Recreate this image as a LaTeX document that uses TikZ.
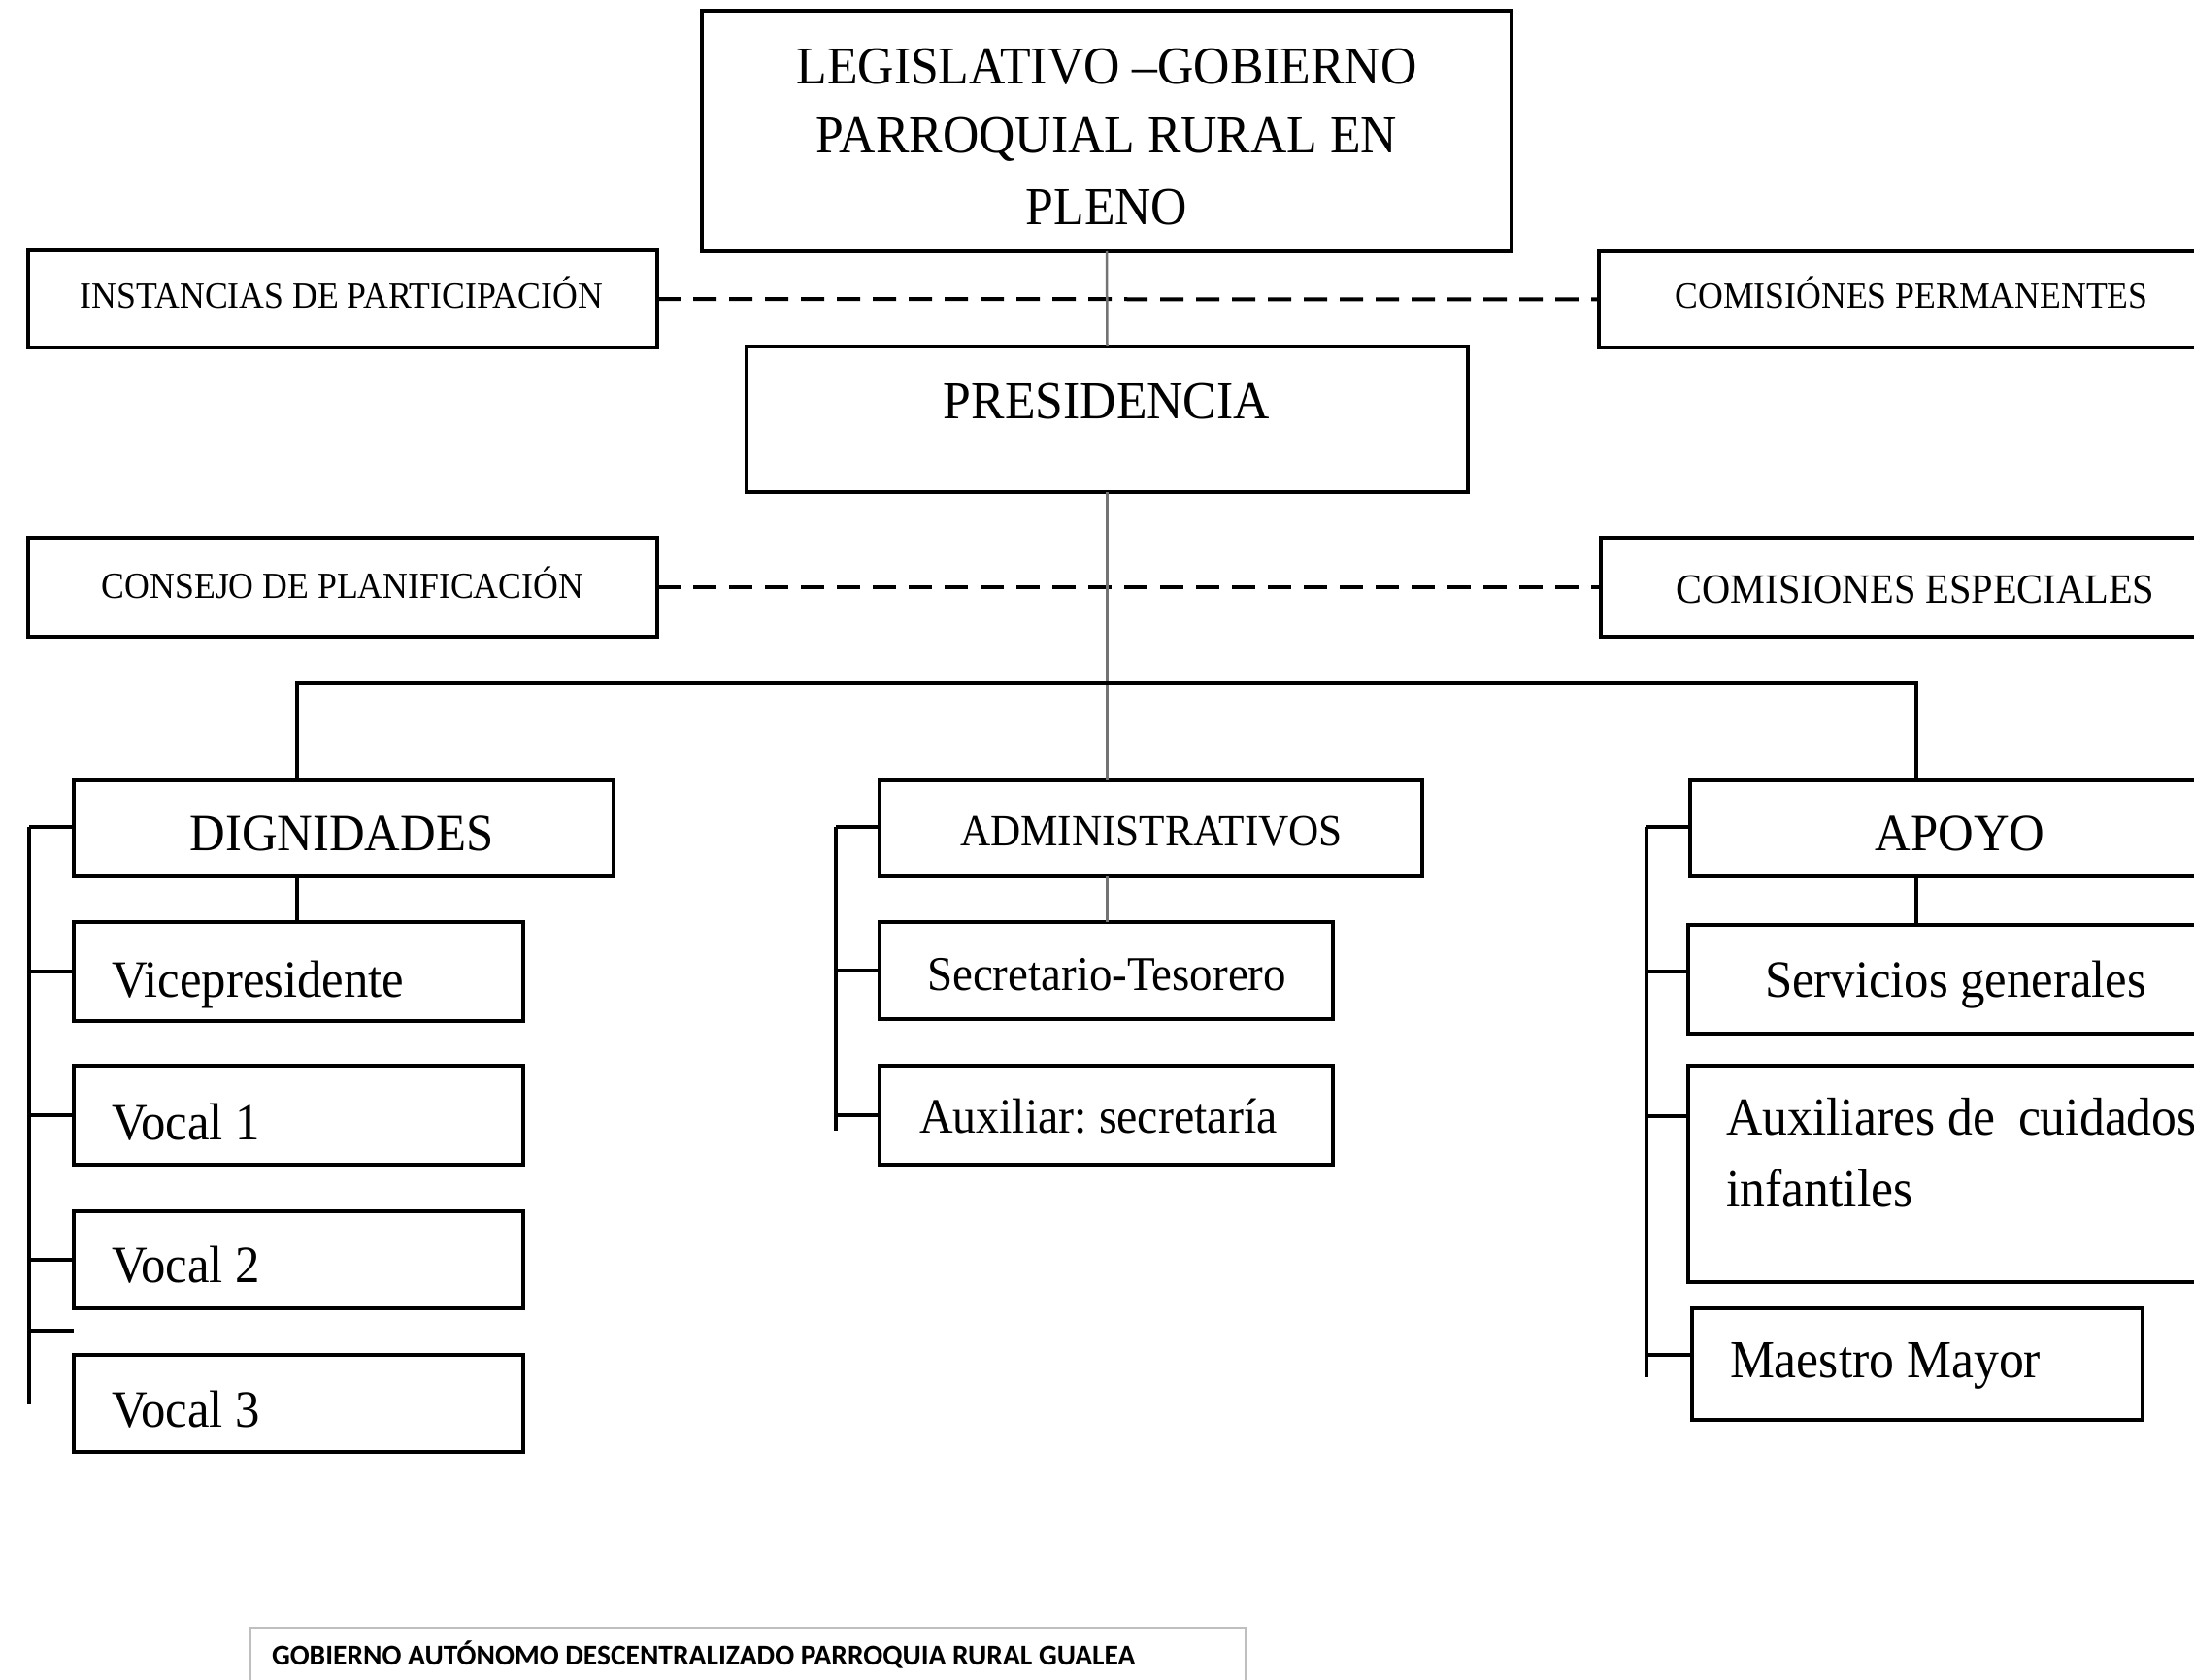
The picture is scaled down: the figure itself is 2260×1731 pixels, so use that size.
\documentclass[tikz,border=0pt]{standalone}
\usepackage{fontspec}
\setmainfont{Liberation Serif}[FakeStretch=0.94]
\newfontfamily\footfont{Carlito}
\frenchspacing
\tikzset{
  box/.style={draw=black,line width=4.5pt,inner sep=0pt,outer sep=0pt,anchor=north west},
  footbox/.style={draw=black!25,line width=2pt,inner sep=0pt,outer sep=0pt,anchor=north west},
  txt/.style={inner sep=0pt,outer sep=0pt,text=black},
  link/.style={draw=black,line width=4pt},
  glink/.style={draw=black!55,line width=2.5pt},
  dlink/.style={draw=black,line width=4pt,dash pattern=on 24pt off 13pt}
}
\newcommand\fs[1]{\fontsize{#1pt}{#1pt}\selectfont}
\begin{document}
\begin{tikzpicture}[x=1pt,y=-1pt]
\useasboundingbox (0,0) rectangle (2260,1731);
\clip (0,0) rectangle (2260,1731);
% boxes
\node[box,minimum width=834pt,minimum height=248pt] (leg) at (723,11) {};
\node[box,minimum width=648pt,minimum height=100pt] (inst) at (29,258) {};
\node[box,minimum width=653pt,minimum height=99pt] (perm) at (1647,259) {};
\node[box,minimum width=743pt,minimum height=150pt] (pres) at (769,357) {};
\node[box,minimum width=648pt,minimum height=102pt] (cons) at (29,554) {};
\node[box,minimum width=651pt,minimum height=102pt] (esp) at (1649,554) {};
\node[box,minimum width=556pt,minimum height=99pt] (dig) at (76,804) {};
\node[box,minimum width=463pt,minimum height=102pt] (vice) at (76,950) {};
\node[box,minimum width=463pt,minimum height=102pt] (vo1) at (76,1098) {};
\node[box,minimum width=463pt,minimum height=100pt] (vo2) at (76,1248) {};
\node[box,minimum width=463pt,minimum height=100pt] (vo3) at (76,1396) {};
\node[box,minimum width=559pt,minimum height=99pt] (adm) at (906,804) {};
\node[box,minimum width=467pt,minimum height=100pt] (sec) at (906,950) {};
\node[box,minimum width=467pt,minimum height=102pt] (aux) at (906,1098) {};
\node[box,minimum width=559pt,minimum height=99pt] (apo) at (1741,804) {};
\node[box,minimum width=561pt,minimum height=112pt] (serv) at (1739,953) {};
\node[box,minimum width=561pt,minimum height=223pt] (auxc) at (1739,1098) {};
\node[box,minimum width=464pt,minimum height=115pt] (mae) at (1743,1348) {};
\node[footbox,minimum width=1025pt,minimum height=100pt] (foot) at (258,1677) {};
% texts
\node[txt,anchor=base] (tl1) at (1140,87) {\fs{55}LEGISLATIVO –GOBIERNO};
\node[txt,anchor=base] (tl2) at (1140,158) {\fs{55}PARROQUIAL RURAL EN};
\node[txt,anchor=base] (tl3) at (1140,232) {\fs{55}PLENO};
\node[txt,anchor=base] (tpres) at (1140,431) {\fs{55}PRESIDENCIA};
\node[txt,anchor=base] (tinst) at (352,317) {\fs{38}INSTANCIAS DE PARTICIPACIÓN};
\node[txt,anchor=base] (tperm) at (1969,317) {\fs{38}COMISIÓNES PERMANENTES};
\node[txt,anchor=base] (tcons) at (353,616) {\fs{38}CONSEJO DE PLANIFICACIÓN};
\node[txt,anchor=base] (tesp) at (1973,621) {\fs{43}COMISIONES ESPECIALES};
\node[txt,anchor=base] (tdig) at (352,876) {\fs{54}DIGNIDADES};
\node[txt,anchor=base] (tadm) at (1186,871) {\fs{46}ADMINISTRATIVOS};
\node[txt,anchor=base] (tapo) at (2019,876) {\fs{54}APOYO};
\node[txt,anchor=base west] (tvice) at (115,1027) {\fs{54}Vicepresidente};
\node[txt,anchor=base west] (tvo1) at (115,1174) {\fs{54}Vocal 1};
\node[txt,anchor=base west] (tvo2) at (115,1321) {\fs{54}Vocal 2};
\node[txt,anchor=base west] (tvo3) at (115,1470) {\fs{54}Vocal 3};
\node[txt,anchor=base] (tsec) at (1140,1020) {\fs{50}Secretario-Tesorero};
\node[txt,anchor=base west] (taux) at (947,1167) {\fs{51}Auxiliar: secretaría};
\node[txt,anchor=base west] (tserv) at (1818,1027) {\fs{54}Servicios generales};
\node[txt,anchor=base west] (tauxc1) at (1778,1169) {\fs{55}Auxiliares de\hspace{0.2em} cuidados};
\node[txt,anchor=base west] (tauxc2) at (1778,1243) {\fs{55}infantiles};
\node[txt,anchor=base west] (tmae) at (1782,1419) {\fs{55}Maestro Mayor};
\node[txt,anchor=base west] (tfoot) at (280,1715) {\footfont\bfseries\fs{29.5}GOBIERNO AUTÓNOMO DESCENTRALIZADO PARROQUIA RURAL GUALEA};
% coordinates
\coordinate (dj) at (306,704);
\coordinate (aj) at (1974,704);
\coordinate (lbt) at (30,852);
\coordinate (lbb) at (30,1447);
\coordinate (lbx) at (30,1371);
\coordinate (lbxe) at (76,1371);
\coordinate (mbt) at (861,852);
\coordinate (mbb) at (861,1165);
\coordinate (rbt) at (1696,852);
\coordinate (rbb) at (1696,1419);
\coordinate (rb1) at (1696,1001);
\coordinate (rb2) at (1696,1150);
\coordinate (rb3) at (1696,1396);
% dashed links
\draw[dlink] (inst.east) -- (perm.west);
\draw[dlink] (cons.east) -- (esp.west);
% gray trunk
\draw[glink] (leg.south) -- (pres.north);
\draw[glink] (pres.south) -- (pres.south |- adm.north);
\draw[glink] (adm.south -| pres.south) -- (sec.north -| pres.south);
% black branches
\draw[link] (dig.north -| dj) -- (dj) -- (aj) -- (apo.north -| aj);
\draw[link] (dig.south -| dj) -- (vice.north -| dj);
\draw[link] (apo.south -| aj) -- (serv.north -| aj);
% left bracket
\draw[link] (lbt) -- (lbb);
\draw[link] (lbt) -- (lbt -| dig.west);
\draw[link] (vice.west -| lbt) -- (vice.west);
\draw[link] (vo1.west -| lbt) -- (vo1.west);
\draw[link] (vo2.west -| lbt) -- (vo2.west);
\draw[link] (lbx) -- (lbxe);
% middle bracket
\draw[link] (mbt) -- (mbb);
\draw[link] (mbt) -- (mbt -| adm.west);
\draw[link] (sec.west -| mbt) -- (sec.west);
\draw[link] (aux.west -| mbt) -- (aux.west);
% right bracket
\draw[link] (rbt) -- (rbb);
\draw[link] (rbt) -- (rbt -| apo.west);
\draw[link] (rb1) -- (rb1 -| serv.west);
\draw[link] (rb2) -- (rb2 -| auxc.west);
\draw[link] (rb3) -- (rb3 -| mae.west);
\end{tikzpicture}
\end{document}
